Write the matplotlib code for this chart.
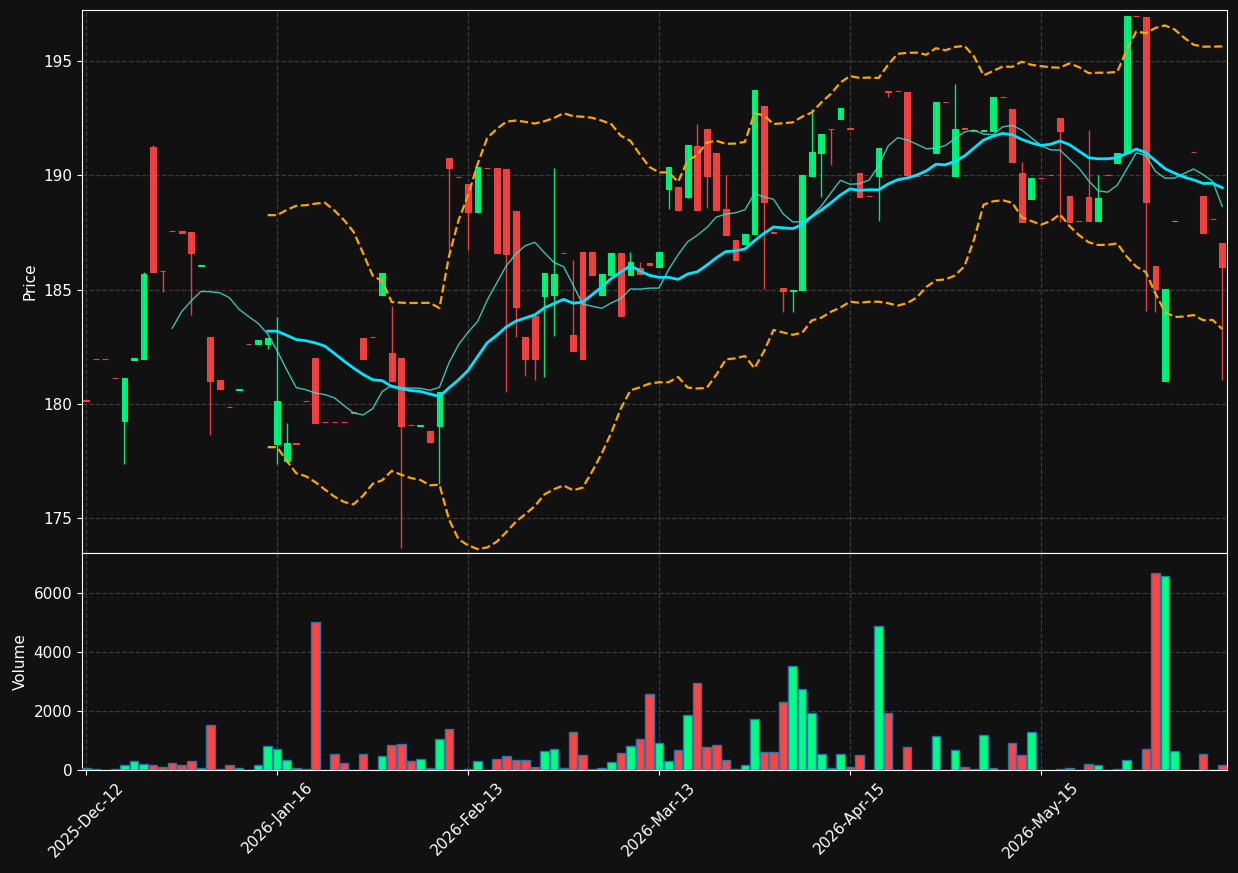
import numpy as np
import pandas as pd
import matplotlib
matplotlib.use("Agg")
import matplotlib.pyplot as plt

# daily OHLCV
opens = [180.15, 181.97, 181.97, 181.14, 179.27, 181.92, 181.96, 191.24, 185.82, 187.57,
         187.56, 187.52, 186.04, 182.93, 181.05, 179.87, 180.62, 182.63, 182.62, 182.63,
         178.26, 177.50, 178.28, 180.13, 182.00, 179.22, 179.22, 179.22, 179.64, 182.88,
         182.93, 184.78, 182.23, 182.00, 179.08, 179.04, 178.81, 179.05, 190.76, 189.93,
         189.62, 188.41, 190.33, 190.32, 190.28, 188.44, 182.93, 183.85, 184.74, 184.78,
         186.61, 183.01, 186.64, 186.64, 184.78, 185.65, 186.60, 185.65, 185.96, 186.15,
         186.00, 189.42, 189.49, 189.05, 191.28, 192.03, 190.98, 188.53, 187.17, 187.00,
         187.44, 193.03, 187.51, 185.06, 184.95, 185.00, 189.98, 190.99, 192.03, 192.48,
         192.05, 190.10, 189.10, 189.98, 193.69, 193.69, 193.64, 189.97, 190.02, 190.98,
         193.21, 189.98, 192.05, 191.97, 191.96, 191.95, 193.43, 192.90, 190.10, 188.98,
         189.89, 190.03, 192.51, 189.09, 188.01, 189.05, 188.00, 190.03, 190.55, 190.96,
         196.98, 196.92, 186.03, 181.01, 187.99, 190.02, 191.02, 189.09, 188.09, 187.04]
highs = [180.15, 181.97, 181.97, 181.14, 181.13, 182.00, 185.75, 191.33, 185.82, 187.57,
         187.56, 187.52, 186.06, 182.93, 181.05, 179.87, 180.64, 182.63, 182.80, 182.88,
         183.79, 179.15, 178.28, 180.13, 182.00, 179.22, 179.22, 179.22, 179.64, 182.88,
         182.93, 185.73, 184.28, 182.00, 179.08, 179.06, 178.81, 180.51, 190.76, 189.93,
         189.62, 190.36, 190.33, 190.32, 190.28, 188.44, 182.93, 183.85, 185.73, 190.31,
         186.61, 186.29, 186.64, 186.64, 185.68, 186.60, 186.60, 186.63, 186.19, 186.15,
         186.64, 190.35, 189.49, 191.33, 192.24, 192.03, 190.98, 190.01, 187.17, 187.43,
         193.73, 193.03, 187.51, 185.06, 185.00, 190.01, 192.91, 191.81, 192.03, 192.94,
         192.05, 190.10, 189.10, 191.19, 193.69, 193.69, 193.64, 189.97, 190.02, 193.21,
         193.21, 193.99, 192.05, 191.97, 191.99, 193.43, 193.43, 192.90, 190.60, 189.87,
         189.89, 190.03, 192.51, 189.09, 188.01, 191.98, 190.01, 190.03, 190.98, 196.97,
         196.98, 196.92, 186.03, 185.01, 188.01, 190.02, 191.02, 189.09, 188.09, 187.04]
lows = [180.13, 181.95, 181.95, 181.12, 177.36, 181.92, 181.96, 185.77, 184.88, 187.55,
        187.48, 183.88, 186.04, 178.63, 180.65, 179.85, 180.62, 182.61, 182.62, 182.41,
        177.38, 177.50, 178.26, 180.11, 179.18, 179.20, 179.20, 179.20, 179.62, 181.98,
        182.91, 184.78, 181.01, 173.68, 179.06, 179.04, 178.35, 176.48, 186.73, 189.91,
        186.73, 188.41, 190.31, 186.60, 180.51, 182.91, 181.23, 181.03, 181.16, 182.97,
        186.59, 182.33, 181.96, 185.65, 184.78, 185.65, 183.86, 185.65, 185.70, 186.08,
        186.00, 188.51, 188.50, 189.00, 188.50, 188.56, 188.50, 187.40, 186.31, 187.00,
        187.44, 185.01, 187.49, 184.00, 184.00, 185.00, 189.98, 189.04, 190.44, 192.48,
        192.03, 189.06, 189.08, 187.99, 193.41, 193.67, 190.03, 189.95, 190.00, 190.98,
        193.19, 189.98, 192.03, 191.95, 191.96, 191.95, 193.41, 190.60, 187.97, 188.98,
        189.87, 190.01, 187.97, 187.97, 187.99, 188.00, 188.00, 190.01, 190.55, 190.96,
        196.96, 184.06, 184.00, 181.01, 187.99, 190.00, 191.00, 187.49, 188.07, 181.05]
closes = [180.13, 181.95, 181.95, 181.12, 181.13, 182.00, 185.68, 185.77, 185.80, 187.55,
          187.48, 186.60, 186.06, 181.01, 180.65, 179.85, 180.64, 182.61, 182.80, 182.88,
          180.13, 178.29, 178.26, 180.11, 179.18, 179.20, 179.20, 179.20, 179.62, 181.98,
          182.91, 185.73, 181.01, 179.05, 179.06, 179.06, 178.35, 180.51, 190.33, 189.91,
          188.41, 190.36, 190.31, 186.60, 186.57, 184.25, 181.98, 181.98, 185.73, 185.68,
          186.59, 182.33, 181.96, 185.65, 185.68, 186.60, 183.86, 186.19, 185.70, 186.08,
          186.64, 190.35, 188.50, 191.33, 188.50, 189.98, 188.50, 187.40, 186.31, 187.43,
          193.73, 188.84, 187.49, 184.95, 185.00, 190.01, 191.02, 191.81, 192.01, 192.94,
          192.03, 189.06, 189.08, 191.19, 193.66, 193.67, 190.03, 189.95, 190.00, 193.21,
          193.19, 192.03, 192.03, 191.95, 191.99, 193.43, 193.41, 190.60, 187.97, 189.87,
          189.87, 190.01, 191.95, 187.97, 187.99, 188.00, 189.00, 190.01, 190.98, 196.97,
          196.96, 188.84, 185.01, 185.01, 188.01, 190.00, 191.00, 187.49, 188.07, 186.00]
volumes = [60, 20, 0, 25, 158, 294, 192, 158, 90, 226,
           158, 294, 57, 1514, 20, 158, 57, 10, 158, 802,
           700, 328, 57, 20, 5006, 0, 531, 226, 0, 531,
           10, 463, 836, 870, 294, 362, 57, 1040, 1379, 10,
           50, 294, 0, 362, 464, 328, 328, 113, 634, 702,
           57, 1279, 498, 23, 57, 260, 566, 804, 1041, 2570,
           906, 294, 668, 1857, 2943, 770, 838, 328, 45, 158,
           1721, 600, 600, 2298, 3520, 2739, 1924, 532, 57, 532,
           102, 498, 0, 4879, 1936, 0, 770, 0, 0, 1143,
           0, 668, 90, 20, 1177, 57, 0, 917, 498, 1279,
           0, 0, 20, 57, 0, 192, 158, 0, 20, 328,
           0, 702, 6679, 6577, 634, 0, 0, 532, 0, 158]
tick_pos = [0, 20, 40, 60, 80, 100]
tick_labels = ["2025-Dec-12", "2026-Jan-16", "2026-Feb-13", "2026-Mar-13", "2026-Apr-15", "2026-May-15"]

df = pd.DataFrame({"Open": opens, "High": highs, "Low": lows, "Close": closes, "Volume": volumes})
x = np.arange(len(df))

# moving averages and bollinger bands
ma10 = df["Close"].rolling(10).mean()
ma20 = df["Close"].rolling(20).mean()
sd20 = df["Close"].rolling(20).std(ddof=0)
upper = ma20 + 2 * sd20
lower = ma20 - 2 * sd20

bg = "#111111"
up_col = "#00ff7f"
dn_col = "#ff4444"
up = df["Close"] >= df["Open"]
colors = np.where(up, up_col, dn_col)

fig = plt.figure(figsize=(12.38, 8.73), dpi=100, facecolor=bg)
ax = fig.add_axes([0.0662, 0.3666, 0.9249, 0.6219], facecolor=bg)
axv = fig.add_axes([0.0662, 0.118, 0.9249, 0.2486], facecolor=bg, sharex=ax)

# candles
ax.vlines(x, df["Low"], df["High"], colors=colors, linewidth=1, alpha=0.9, zorder=2)
body_lo = np.minimum(df["Open"], df["Close"])
body_h = (df["Close"] - df["Open"]).abs()
ax.bar(x, body_h, bottom=body_lo, width=0.6, color=colors, edgecolor=colors,
       linewidth=0.8, alpha=0.9, zorder=3)

ax.plot(x, ma10, color="#40e0d0", linewidth=1, alpha=0.85, zorder=4)
ax.plot(x, ma20, color="#00e5ff", linewidth=2, zorder=4)
ax.plot(x, upper, color="orange", linestyle="--", linewidth=1.6, zorder=4)
ax.plot(x, lower, color="orange", linestyle="--", linewidth=1.6, zorder=4)

# volume
axv.bar(x, df["Volume"], width=0.9, color=colors, edgecolor="#1f77b4", linewidth=1, zorder=3)

ax.set_xlim(-0.45, 119.5)
ax.set_ylim(173.48, 197.23)
axv.set_ylim(0, 7356)
ax.set_yticks([175, 180, 185, 190, 195])
axv.set_yticks([0, 2000, 4000, 6000])
axv.set_xticks(tick_pos)
axv.set_xticklabels(tick_labels, rotation=45, ha="center")
ax.tick_params(axis="x", labelbottom=False, length=0)
ax.set_ylabel("Price", color="white", fontsize=11)
axv.set_ylabel("Volume", color="white", fontsize=11)

for a in (ax, axv):
    a.grid(True, color="#3a3a3a", linestyle="--", linewidth=0.9)
    a.set_axisbelow(True)
    a.tick_params(colors="white", labelsize=11)
    for s in a.spines.values():
        s.set_color("white")

fig.savefig("out.png", dpi=100, facecolor=bg)
